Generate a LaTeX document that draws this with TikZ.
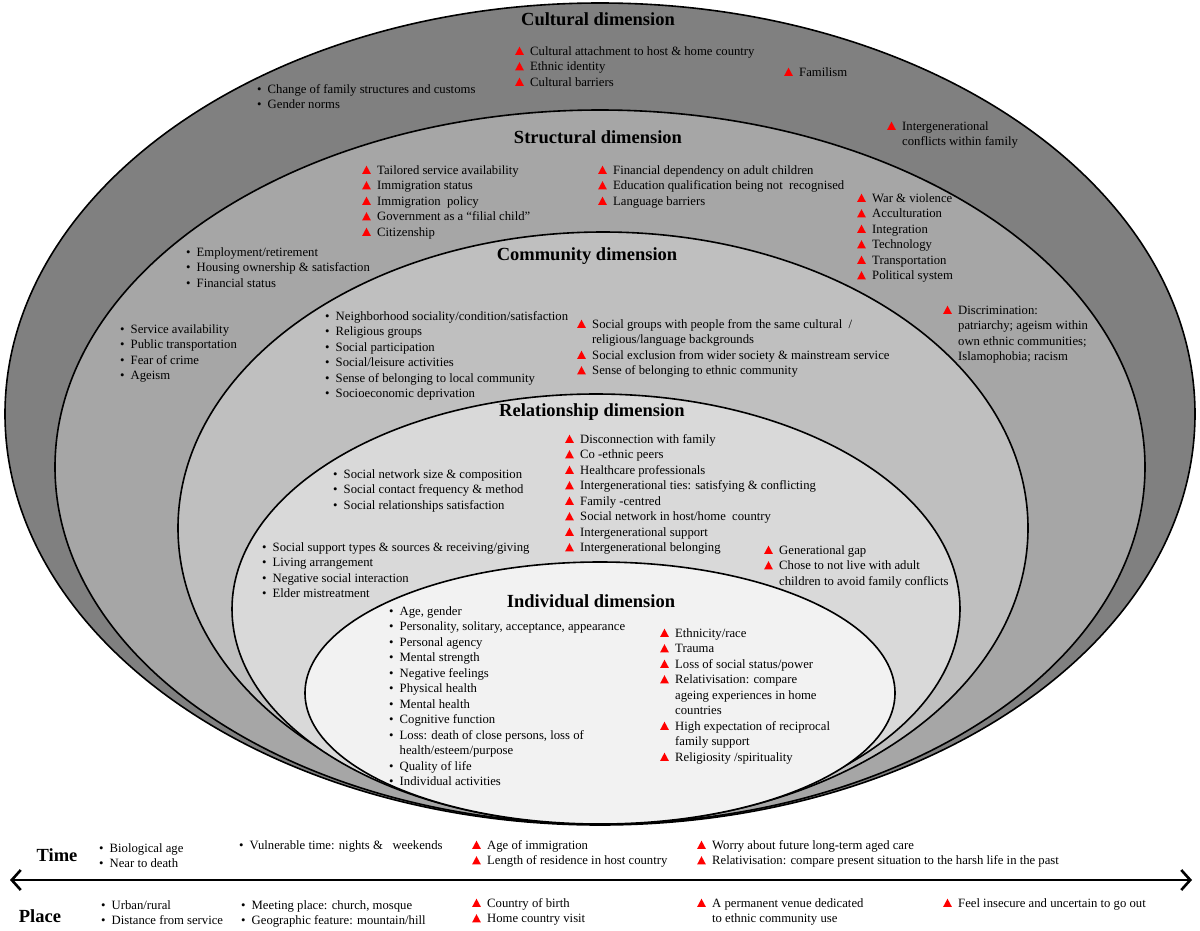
\documentclass[tikz,border=0pt]{standalone}
\usepackage{fontspec}
\setmainfont{Liberation Serif}
\usetikzlibrary{arrows.meta}

\definecolor{cultgray}{gray}{0.50}
\definecolor{structgray}{gray}{0.65}
\definecolor{commgray}{gray}{0.75}
\definecolor{relgray}{gray}{0.85}
\definecolor{indgray}{gray}{0.95}

\newcommand{\tri}{\tikz[x=1pt,y=1pt,baseline=0pt]\fill[red] (0,0.3)--(8.6,0.3)--(4.3,8.4)--cycle;}
\newcommand{\bu}{\strut\makebox[10.5pt][l]{\textbullet}}
\newcommand{\tr}{\strut\makebox[15pt][l]{\tri}}
\newcommand{\hg}{\strut\hspace*{15pt}}

\tikzset{
  layer/.style={draw=black,line width=1.6pt},
  dimtitle/.style={inner sep=0pt,font=\fontsize{18.5}{22}\selectfont\bfseries},
  items/.style={anchor=north west,yshift=8pt,align=left,inner sep=0pt,font=\fontsize{12.7}{15.5}\selectfont},
  axis/.style={line width=2.6pt,{Straight Barb[length=9pt,width=20pt]}-{Straight Barb[length=9pt,width=20pt]}}
}

\begin{document}
\begin{tikzpicture}[x=1pt,y=-1pt]
\useasboundingbox (0,0) rectangle (1200,930);

\filldraw[layer,fill=cultgray] (600,414) ellipse [x radius=595, y radius=411];
\filldraw[layer,fill=structgray] (600,467) ellipse [x radius=545, y radius=357];
\filldraw[layer,fill=commgray] (603,528) ellipse [x radius=425, y radius=296];
\filldraw[layer,fill=relgray] (596,609) ellipse [x radius=364, y radius=215];
\filldraw[layer,fill=indgray] (600,693) ellipse [x radius=295, y radius=131];

\node[dimtitle] (cultural) at (598,19) {Cultural dimension};
\node[items] (cultA) at (515,52) {\tr Cultural attachment to host \& home country\\\tr Ethnic identity\\\tr Cultural barriers};
\node[items] (cultB) at (784,73) {\tr Familism};
\node[items] (cultC) at (257,90) {\bu Change of family structures and customs\\\bu Gender norms};
\node[items] (cultD) at (887,127) {\tr Intergenerational\\\hg conflicts within family};

\node[dimtitle] (structural) at (598,137) {Structural dimension};
\node[items] (structA) at (362,171) {\tr Tailored service availability\\\tr Immigration status\\\tr Immigration\ \ policy\\\tr Government as a “filial child”\\\tr Citizenship};
\node[items] (structB) at (598,171) {\tr Financial dependency on adult children\\\tr Education qualification being not\ \ recognised\\\tr Language barriers};
\node[items] (structC) at (857,199) {\tr War \& violence\\\tr Acculturation\\\tr Integration\\\tr Technology\\\tr Transportation\\\tr Political system};
\node[items] (structD) at (186,253) {\bu Employment/retirement\\\bu Housing ownership \& satisfaction\\\bu Financial status};
\node[items] (structE) at (120,330) {\bu Service availability\\\bu Public transportation\\\bu Fear of crime\\\bu Ageism};
\node[items] (structF) at (943,311) {\tr Discrimination:\\\hg patriarchy; ageism within\\\hg own ethnic communities;\\\hg Islamophobia; racism};

\node[dimtitle] (community) at (587,256) {Community dimension};
\node[items] (commA) at (325,317) {\bu Neighborhood sociality/condition/satisfaction\\\bu Religious groups\\\bu Social participation\\\bu Social/leisure activities\\\bu Sense of belonging to local community\\\bu Socioeconomic deprivation};
\node[items] (commB) at (577,325) {\tr Social groups with people from the same cultural\ \ /\\\hg religious/language backgrounds\\\tr Social exclusion from wider society \& mainstream service\\\tr Sense of belonging to ethnic community};

\node[dimtitle] (relationship) at (592,412) {Relationship dimension};
\node[items] (relA) at (565,440) {\tr Disconnection with family\\\tr Co -ethnic peers\\\tr Healthcare professionals\\\tr Intergenerational ties: satisfying \& conflicting\\\tr Family -centred\\\tr Social network in host/home\ \ country\\\tr Intergenerational support\\\tr Intergenerational belonging};
\node[items] (relB) at (333,475) {\bu Social network size \& composition\\\bu Social contact frequency \& method\\\bu Social relationships satisfaction};
\node[items] (relC) at (262,548) {\bu Social support types \& sources \& receiving/giving\\\bu Living arrangement\\\bu Negative social interaction\\\bu Elder mistreatment};
\node[items] (relD) at (764,551) {\tr Generational gap\\\tr Chose to not live with adult\\\hg children to avoid family conflicts};

\node[dimtitle] (individual) at (591,601) {Individual dimension};
\node[items] (indA) at (389,612) {\bu Age, gender\\\bu Personality, solitary, acceptance, appearance\\\bu Personal agency\\\bu Mental strength\\\bu Negative feelings\\\bu Physical health\\\bu Mental health\\\bu Cognitive function\\\bu Loss: death of close persons, loss of\\\strut\hspace*{10.5pt}health/esteem/purpose\\\bu Quality of life\\\bu Individual activities};
\node[items] (indB) at (660,634) {\tr Ethnicity/race\\\tr Trauma\\\tr Loss of social status/power\\\tr Relativisation: compare\\\hg ageing experiences in home\\\hg countries\\\tr High expectation of reciprocal\\\hg family support\\\tr Religiosity /spirituality};

\node[dimtitle] (time) at (57,855) {Time};
\node[items] (timeA) at (99,849) {\bu Biological age\\\bu Near to death};
\node[items] (timeB) at (239,846) {\bu Vulnerable time: nights \&\ \ \ weekends};
\node[items] (timeC) at (472,846) {\tr Age of immigration\\\tr Length of residence in host country};
\node[items] (timeD) at (697,846) {\tr Worry about future long-term aged care\\\tr Relativisation: compare present situation to the harsh life in the past};

\coordinate (past) at (10,880);
\coordinate (future) at (1192,880);
\draw[axis] (past) -- (future);

\node[dimtitle] (place) at (40,916) {Place};
\node[items] (placeA) at (101,906) {\bu Urban/rural\\\bu Distance from service};
\node[items] (placeB) at (241,906) {\bu Meeting place: church, mosque\\\bu Geographic feature: mountain/hill};
\node[items] (placeC) at (472,904) {\tr Country of birth\\\tr Home country visit};
\node[items] (placeD) at (697,904) {\tr A permanent venue dedicated\\\hg to ethnic community use};
\node[items] (placeE) at (943,904) {\tr Feel insecure and uncertain to go out};
\end{tikzpicture}
\end{document}
